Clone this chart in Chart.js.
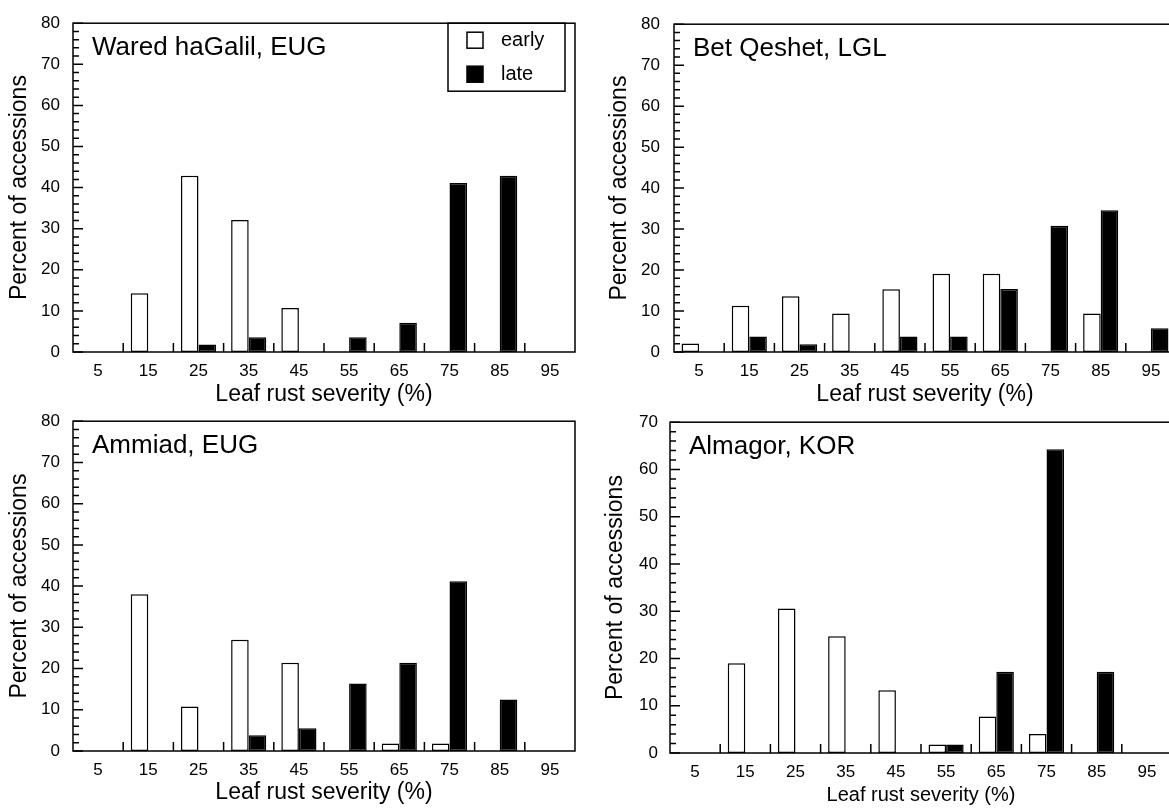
<!DOCTYPE html>
<html>
<head>
<meta charset="utf-8">
<script src="https://cdn.jsdelivr.net/npm/chart.js@4.4.1/dist/chart.umd.min.js"></script>
<style>
  html, body { margin: 0; padding: 0; background: #fff; }
  body { position: relative; width: 1169px; height: 808px; overflow: hidden; }
  canvas { position: absolute; }
</style>
</head>
<body>
<canvas id="p1" width="585" height="410" style="left:0px;top:0px"></canvas>
<canvas id="p2" width="600" height="410" style="left:585px;top:0px"></canvas>
<canvas id="p3" width="585" height="410" style="left:0px;top:398px"></canvas>
<canvas id="p4" width="600" height="408" style="left:585px;top:400px"></canvas>
<script>
var severity = ['5', '15', '25', '35', '45', '55', '65', '75', '85', '95'];

var waredEarly = [0, 14.3, 42.9, 32.1, 10.7, 0, 0, 0, 0, 0];
var waredLate = [0, 0, 1.8, 3.6, 0, 3.6, 7.1, 41.1, 42.9, 0];

var qeshetEarly = [2.1, 11.3, 13.6, 9.4, 15.3, 19.1, 19.1, 0, 9.4, 0];
var qeshetLate = [0, 3.8, 1.9, 0, 3.8, 3.8, 15.4, 30.8, 34.6, 5.8];

var ammiadEarly = [0, 38.0, 10.8, 27.0, 21.4, 0, 1.8, 1.8, 0, 0];
var ammiadLate = [0, 0, 0, 3.8, 5.5, 16.4, 21.4, 41.2, 12.5, 0];

var almagorEarly = [0, 19.0, 30.6, 24.7, 13.3, 1.8, 7.7, 4.0, 0, 0];
var almagorLate = [0, 0, 0, 0, 0, 1.8, 17.2, 64.3, 17.2, 0];

var FONT = '"Liberation Sans", Arial, Helvetica, sans-serif';

// box, inward ticks, site name and (optionally) legend
var frame = {
    id: 'frame',
    afterDatasetsDraw: function (chart, args, o) {
        var ctx = chart.ctx, a = chart.chartArea;
        var x = chart.scales.x, y = chart.scales.y;
        ctx.save();
        ctx.strokeStyle = '#000';
        ctx.lineWidth = 1.5;
        ctx.strokeRect(a.left, a.top, a.right - a.left, a.bottom - a.top);
        ctx.beginPath();
        for (var i = 1; i < x.ticks.length; i++) {
            var px = (x.getPixelForTick(i - 1) + x.getPixelForTick(i)) / 2;
            ctx.moveTo(px, a.bottom);
            ctx.lineTo(px, a.bottom - 9);
        }
        for (var v = 0; v <= y.max; v += 2) {
            var py = y.getPixelForValue(v);
            ctx.moveTo(a.left, py);
            ctx.lineTo(a.left + (v % 10 === 0 ? 10 : 6), py);
        }
        ctx.stroke();

        ctx.fillStyle = '#000';
        ctx.font = '26px ' + FONT;
        ctx.textBaseline = 'alphabetic';
        ctx.fillText(o.label, a.left + 19, a.top + 32);

        if (o.legend) {
            var bx = a.right - 127, bw = 117, bh = 68;
            ctx.strokeRect(bx, a.top, bw, bh);
            ctx.font = '20px ' + FONT;
            ctx.textBaseline = 'middle';
            chart.data.datasets.forEach(function (ds, k) {
                var cy = a.top + 17 + k * 34;
                ctx.fillStyle = ds.backgroundColor;
                ctx.fillRect(bx + 19, cy - 8, 16, 16);
                ctx.strokeRect(bx + 19, cy - 8, 16, 16);
                ctx.fillStyle = '#000';
                ctx.fillText(ds.label, bx + 53, cy);
            });
        }
        ctx.restore();
    }
};

function makePanel(id, label, early, late, yMax, o) {
    return new Chart(document.getElementById(id), {
        type: 'bar',
        data: {
            labels: severity,
            datasets: [{
                label: 'early',
                data: early,
                backgroundColor: '#ffffff',
                borderColor: '#000000',
                borderWidth: 1.5,
                borderSkipped: false
            }, {
                label: 'late',
                data: late,
                backgroundColor: '#000000',
                borderColor: '#000000',
                borderWidth: 1.5,
                borderSkipped: false
            }]
        },
        options: {
            responsive: false,
            animation: false,
            layout: { padding: { top: o.top, right: o.right, left: 0, bottom: 0 } },
            datasets: { bar: { categoryPercentage: 0.7, barPercentage: 1 } },
            plugins: {
                legend: { display: false },
                tooltip: { enabled: false },
                frame: { label: label, legend: o.legend }
            },
            scales: {
                x: {
                    offset: true,
                    grid: { display: false, drawTicks: false },
                    border: { display: false },
                    ticks: { color: '#000', font: { family: FONT, size: 17 }, padding: 9, maxRotation: 0 },
                    title: {
                        display: true,
                        text: 'Leaf rust severity (%)',
                        color: '#000',
                        font: { family: FONT, size: o.xTitleSize },
                        padding: { top: 0, bottom: o.xTitlePad }
                    },
                    afterFit: function (s) { s.height = o.xHeight; }
                },
                y: {
                    min: 0,
                    max: yMax,
                    grid: { display: false, drawTicks: false },
                    border: { display: false },
                    ticks: { stepSize: 10, color: '#000', font: { family: FONT, size: 17 }, padding: o.tickPad },
                    title: {
                        display: true,
                        text: 'Percent of accessions',
                        color: '#000',
                        font: { family: FONT, size: 23 },
                        padding: { top: o.yTitlePad, bottom: 0 }
                    },
                    afterFit: function (s) { s.width = o.yWidth; }
                }
            }
        },
        plugins: [frame]
    });
}

makePanel('p1', 'Wared haGalil, EUG', waredEarly, waredLate, 80,
    { top: 19, right: 10, yWidth: 73, xHeight: 58, tickPad: 13, yTitlePad: 6, xTitleSize: 23, xTitlePad: 2, legend: true });
makePanel('p2', 'Bet Qeshet, LGL', qeshetEarly, qeshetLate, 80,
    { top: 20, right: 9, yWidth: 89, xHeight: 58, tickPad: 14, yTitlePad: 21, xTitleSize: 23, xTitlePad: 2, legend: false });
makePanel('p3', 'Ammiad, EUG', ammiadEarly, ammiadLate, 80,
    { top: 19, right: 10, yWidth: 73, xHeight: 57, tickPad: 13, yTitlePad: 6, xTitleSize: 23, xTitlePad: 2, legend: false });
makePanel('p4', 'Almagor, KOR', almagorEarly, almagorLate, 70,
    { top: 19, right: 13, yWidth: 85, xHeight: 55, tickPad: 12, yTitlePad: 17, xTitleSize: 20, xTitlePad: 1, legend: false });
</script>
</body>
</html>
